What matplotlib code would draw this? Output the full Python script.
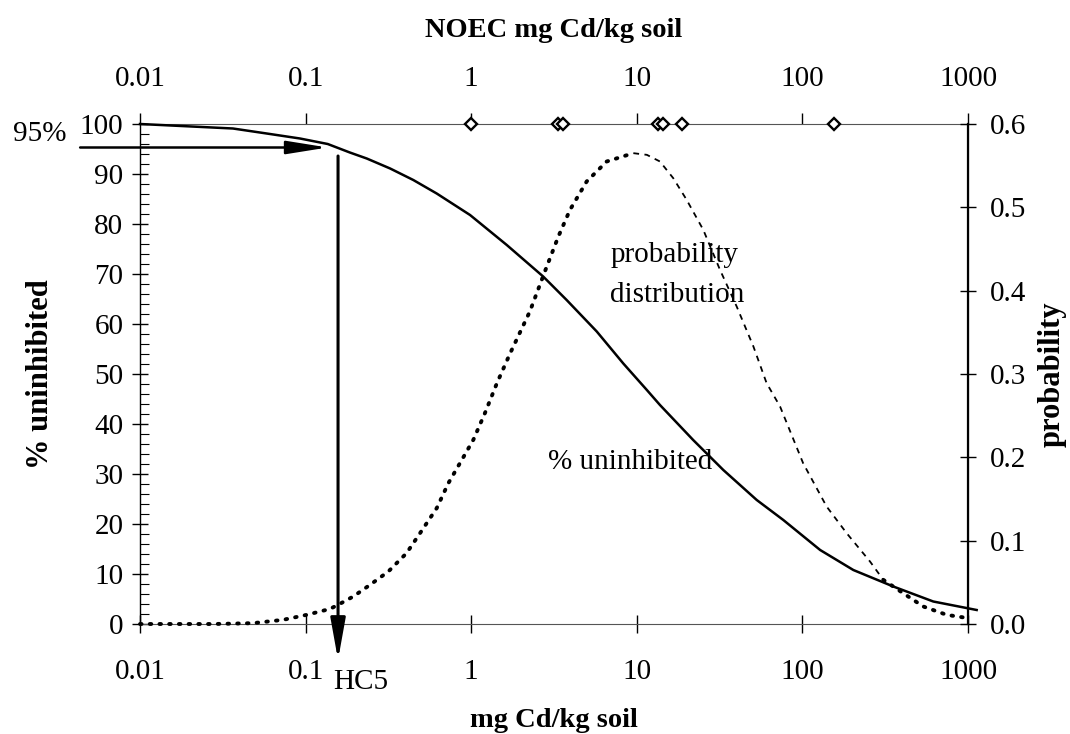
import numpy as np
import matplotlib
matplotlib.use('Agg')
import matplotlib.pyplot as plt
from matplotlib.ticker import MultipleLocator, NullLocator

plt.rcParams['font.family'] = ['Liberation Serif', 'DejaVu Serif']

# % uninhibited curve
conc_pct = [0.01, 0.0364, 0.0582, 0.0925, 0.136, 0.185, 0.234, 0.324, 0.447, 0.619,
            0.984, 1.64, 2.72, 3.77, 5.73, 8.29, 11.5, 13.8, 21.9, 33.3, 53.0,
            76.7, 128, 203, 354, 617, 1128]
pct_uninhibited = [100, 99.1, 98.1, 97.1, 96.0, 94.3, 93.1, 91.1, 88.8, 86.1,
                   81.8, 75.8, 69.5, 64.8, 58.5, 52.1, 46.8, 43.8, 36.8, 30.8, 24.8,
                   20.8, 14.8, 10.8, 7.5, 4.5, 2.8]

# probability distribution, in three drawn styles
conc_prob_left = [0.01, 0.0277, 0.0481, 0.0731, 0.1016, 0.140, 0.157, 0.194, 0.245,
                  0.316, 0.407, 0.491, 0.619, 0.728, 0.855, 1.03, 1.21, 1.43, 1.72,
                  2.26, 2.86, 3.36, 3.95, 4.98, 6.58, 9.53]
prob_left = [0.0, 0.0, 0.001, 0.005, 0.011, 0.018, 0.023, 0.033, 0.047,
             0.063, 0.085, 0.109, 0.139, 0.169, 0.193, 0.221, 0.253, 0.289, 0.325,
             0.375, 0.429, 0.465, 0.497, 0.531, 0.555, 0.565]
conc_prob_right = [9.53, 11.5, 13.8, 16.6, 20.0, 25.2, 31.8, 40.1, 50.6, 60.8, 73.3,
                   101, 140, 185, 256, 308]
prob_right = [0.565, 0.563, 0.555, 0.535, 0.509, 0.473, 0.425, 0.381, 0.333, 0.289, 0.261,
              0.193, 0.141, 0.109, 0.075, 0.053]
conc_prob_tail = [308, 406, 537, 743, 1005]
prob_tail = [0.053, 0.037, 0.021, 0.011, 0.007]

# NOEC values (top axis diamonds)
noec = [1.0, 3.34, 3.58, 13.4, 14.4, 18.7, 155]

hc5 = 0.157
xticks = [0.01, 0.1, 1, 10, 100, 1000]
xticklabels = ['0.01', '0.1', '1', '10', '100', '1000']

fig = plt.figure(figsize=(10.7, 7.34), dpi=100)
ax = fig.add_axes([140 / 1070, 1 - 624 / 734, 828 / 1070, 500 / 734])
ax2 = ax.twinx()

ax.set_xscale('log')
ax.set_xlim(0.01, 1000)
ax.set_ylim(0, 100)
ax2.set_ylim(0, 0.6)

fs = 21
fs_x = 20.5
fs_y = 22

# curves
ax.plot(conc_pct, pct_uninhibited, color='black', lw=1.8, clip_on=False, zorder=3)
ax2.plot(conc_prob_left, prob_left, color='black', lw=2.8, linestyle=(0, (0.4, 2.1)),
         dash_capstyle='round', clip_on=False)
ax2.plot(conc_prob_right, prob_right, color='black', lw=1.3, linestyle=(0, (3.2, 3)),
         clip_on=False)
ax2.plot(conc_prob_tail, prob_tail, color='black', lw=2.8, linestyle=(0, (0.4, 2.1)),
         dash_capstyle='round', clip_on=False)

# NOEC diamonds on top line
ax.plot(noec, [100] * len(noec), linestyle='none', marker='D', ms=6.5, mfc='white',
        mec='black', mew=1.7, clip_on=False, zorder=5)

# axes styling
ax.set_xticks(xticks)
ax.set_xticklabels(xticklabels)
ax.xaxis.set_minor_locator(NullLocator())
ax.set_yticks(np.arange(0, 101, 10))
ax.yaxis.set_minor_locator(MultipleLocator(2))
ax.tick_params(axis='x', which='major', direction='inout', length=13, width=1, labelsize=fs, pad=19)
ax.tick_params(axis='y', which='major', direction='inout', length=12, width=1, labelsize=fs, pad=6)
ax.tick_params(axis='y', which='minor', direction='in', length=6.5, width=0.8)
ax2.set_yticks([0.0, 0.1, 0.2, 0.3, 0.4, 0.5, 0.6])
ax2.set_yticklabels(['0.0', '0.1', '0.2', '0.3', '0.4', '0.5', '0.6'])
ax2.tick_params(axis='y', direction='inout', length=12, width=1, labelsize=fs, pad=10)

for s in ['top', 'bottom']:
    ax.spines[s].set_linewidth(0.8)
    ax.spines[s].set_color('#555555')
    ax2.spines[s].set_visible(False)
ax.spines['left'].set_linewidth(1.0)
ax2.spines['right'].set_linewidth(1.6)
ax2.spines['left'].set_visible(False)

secax = ax.secondary_xaxis('top')
secax.set_xticks(xticks)
secax.set_xticklabels(xticklabels)
secax.xaxis.set_minor_locator(NullLocator())
secax.tick_params(direction='out', length=8, width=1, labelsize=fs, pad=15)
secax.spines['top'].set_visible(False)
secax.set_xlabel('NOEC mg Cd/kg soil', fontsize=fs_x, fontweight='bold', labelpad=21)

ax.set_xlabel('mg Cd/kg soil', fontsize=fs_x, fontweight='bold', labelpad=16)
ax.set_ylabel('% uninhibited', fontsize=fs_y, fontweight='bold', labelpad=18)
ax2.set_ylabel('probability', fontsize=fs_y, fontweight='bold', labelpad=8)

# HC5 arrows
ax.annotate('', xy=(0.136, 95.3), xytext=(0.00435, 95.3), annotation_clip=False,
            arrowprops=dict(arrowstyle='-|>,head_length=2.5,head_width=0.4', lw=1.8,
                            color='black', mutation_scale=10, shrinkA=0, shrinkB=0))
ax.annotate('', xy=(hc5, -7.2), xytext=(hc5, 93.6), annotation_clip=False,
            arrowprops=dict(arrowstyle='-|>,head_length=2.5,head_width=0.45', lw=2.2,
                            color='black', mutation_scale=10, shrinkA=0, shrinkB=0))

ax.text(0.0017, 98.0, '95%', fontsize=fs, ha='left', va='center', clip_on=False)
ax.text(0.146, -11.6, 'HC5', fontsize=fs, ha='left', va='center', clip_on=False)
ax.text(6.9, 73.8, 'probability', fontsize=fs, ha='left', va='center')
ax.text(6.9, 65.8, 'distribution', fontsize=fs, ha='left', va='center')
ax.text(2.91, 32.4, '% uninhibited', fontsize=fs, ha='left', va='center')

fig.savefig('out.png', dpi=100)
